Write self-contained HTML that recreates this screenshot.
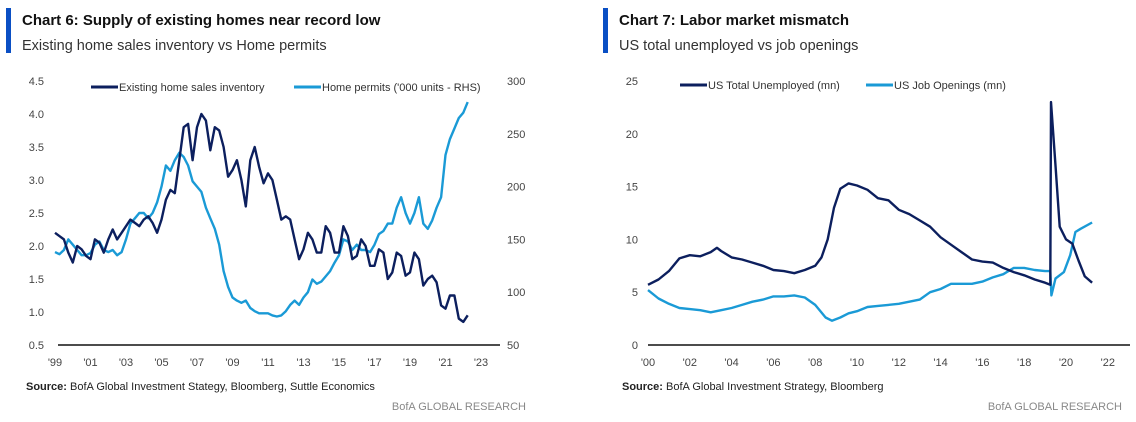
<!DOCTYPE html>
<html><head><meta charset="utf-8"><style>
body{margin:0;width:1136px;height:422px;background:#fff;font-family:"Liberation Sans",sans-serif;overflow:hidden}
svg{position:absolute;left:0;top:0}
</style></head><body>
<svg id="s" width="1136" height="422">
<rect x="6" y="8" width="5" height="45" fill="#0a4fc4"/>
<text x="22" y="25" font-size="15" font-weight="bold" fill="#111">Chart 6: Supply of existing homes near record low</text>
<text x="22" y="50" font-size="14.5" fill="#333">Existing home sales inventory vs Home permits</text>
<rect x="603" y="8" width="5" height="45" fill="#0a4fc4"/>
<text x="619" y="25" font-size="15" font-weight="bold" fill="#111">Chart 7: Labor market mismatch</text>
<text x="619" y="50" font-size="14.5" fill="#333">US total unemployed vs job openings</text>
<text x="26" y="390" font-size="11" fill="#222"><tspan font-weight="bold">Source:</tspan>  BofA Global Investment Stategy, Bloomberg, Suttle Economics</text>
<text x="526" y="410" font-size="11" fill="#888" text-anchor="end">BofA GLOBAL RESEARCH</text>
<text x="622" y="390" font-size="11" fill="#222"><tspan font-weight="bold">Source:</tspan>  BofA Global Investment Strategy, Bloomberg</text>
<text x="1122" y="410" font-size="11" fill="#888" text-anchor="end">BofA GLOBAL RESEARCH</text>
</svg>
<script>
const NAVY="#0c1f5e",CYAN="#1a9ad6";
// Chart 6 data (quarterly, 1999Q1 onwards)
const c6Start=1999;
const inventory=[2.2,2.15,2.1,1.9,1.75,2.0,1.95,1.85,1.8,2.1,2.05,1.9,2.1,2.25,2.1,2.2,2.3,2.4,2.35,2.3,2.4,2.45,2.35,2.2,2.4,2.7,2.85,2.8,3.3,3.8,3.85,3.3,3.8,4.0,3.9,3.45,3.8,3.75,3.5,3.05,3.15,3.3,3.0,2.6,3.3,3.5,3.2,2.95,3.1,3.0,2.7,2.4,2.45,2.4,2.1,1.8,1.95,2.2,2.1,1.9,1.9,2.3,2.2,1.9,1.9,2.3,2.15,1.8,1.85,2.1,2.0,1.7,1.7,1.95,1.9,1.5,1.6,1.9,1.85,1.55,1.6,1.9,1.8,1.4,1.5,1.55,1.45,1.1,1.05,1.25,1.25,0.9,0.85,0.95];
const permits=[138,136,140,150,145,140,135,135,137,145,148,140,138,140,135,138,150,165,170,175,175,170,175,185,200,220,215,225,232,228,220,205,200,195,180,170,160,145,120,105,95,92,90,92,85,82,80,80,80,78,77,78,82,88,92,88,95,100,112,108,110,115,120,128,135,150,148,140,145,140,140,138,145,155,158,165,165,180,190,175,165,175,190,165,160,168,180,190,230,245,255,265,270,280];
const c6Left=["0.5","1.0","1.5","2.0","2.5","3.0","3.5","4.0","4.5"];
const c6Right=["50","100","150","200","250","300"];
const c6X=["'99","'01","'03","'05","'07","'09","'11","'13","'15","'17","'19","'21","'23"];
// Chart 7 data
const unempYears=[2000,2000.5,2001,2001.5,2002,2002.5,2003,2003.3,2003.5,2004,2004.5,2005,2005.5,2006,2006.5,2007,2007.5,2008,2008.3,2008.6,2008.9,2009.2,2009.6,2010,2010.5,2011,2011.5,2012,2012.5,2013,2013.5,2014,2014.5,2015,2015.5,2016,2016.5,2017,2017.5,2018,2018.5,2019,2019.25,2019.28,2019.5,2019.7,2020.0,2020.3,2020.6,2020.9,2021.25];
const unemployed=[5.7,6.2,7.0,8.2,8.5,8.4,8.8,9.2,8.9,8.3,8.1,7.8,7.5,7.1,7.0,6.8,7.1,7.5,8.3,10,13,14.8,15.3,15.1,14.7,13.9,13.7,12.8,12.4,11.8,11.2,10.2,9.5,8.8,8.1,7.9,7.8,7.3,6.9,6.6,6.2,5.9,5.7,23.0,17,11.2,10.0,9.6,8.0,6.5,5.9];
const jobYears=[2000,2000.5,2001,2001.5,2002,2002.5,2003,2003.5,2004,2004.5,2005,2005.5,2006,2006.5,2007,2007.5,2008,2008.5,2008.8,2009.2,2009.6,2010,2010.5,2011,2011.5,2012,2012.5,2013,2013.5,2014,2014.5,2015,2015.5,2016,2016.5,2017,2017.5,2018,2018.5,2019,2019.25,2019.3,2019.5,2019.9,2020.2,2020.45,2020.7,2021.25];
const jobOpenings=[5.2,4.4,3.9,3.5,3.4,3.3,3.1,3.3,3.5,3.8,4.1,4.3,4.6,4.6,4.7,4.5,3.8,2.6,2.3,2.6,3.0,3.2,3.6,3.7,3.8,3.9,4.1,4.3,5.0,5.3,5.8,5.8,5.8,6.0,6.4,6.7,7.3,7.3,7.1,7.0,7.0,4.7,6.3,6.9,8.5,10.7,11.0,11.6];
const c7Y=["0","5","10","15","20","25"];
const c7X=["'00","'02","'04","'06","'08","'10","'12","'14","'16","'18","'20","'22"];

const svg=document.getElementById('s');const NS="http://www.w3.org/2000/svg";
function mk(t,a){const e=document.createElementNS(NS,t);for(const k in a)e.setAttribute(k,a[k]);svg.appendChild(e);return e;}
// scales
const x6=y=>55+(y-1999)*17.75;
const yL=v=>345-(v-0.5)*66;
const yR=v=>345-(v-50)*1.056;
const x7=y=>648+(y-2000)*20.9;
const y7=v=>345-v*10.56;

// chart 6 axes
let e=mk('line',{x1:58,x2:500,y1:345,y2:345,stroke:"#111","stroke-width":1.5});


c6Left.forEach(t=>{e=mk('text',{x:44,y:yL(+t)+4,"font-size":11,fill:"#444","text-anchor":"end"});e.textContent=t;

});
c6Right.forEach(t=>{e=mk('text',{x:507,y:yR(+t)+4,"font-size":11,fill:"#444"});e.textContent=t;

});
c6X.forEach((t,i)=>{e=mk('text',{x:x6(1999+2*i),y:366,"font-size":11,fill:"#444","text-anchor":"middle"});e.textContent=t;

});
function path(xs,ys,col,name){const d=xs.map((x,i)=>(i?'L':'M')+x.toFixed(1)+','+ys[i].toFixed(1)).join('');
const p=mk('path',{d:d,fill:"none",stroke:col,"stroke-width":2.4,"stroke-linejoin":"round"});

}
path(permits.map((v,i)=>x6(c6Start+i/4)),permits.map(yR),CYAN,'home-permits-line');
path(inventory.map((v,i)=>x6(c6Start+i/4)),inventory.map(yL),NAVY,'inventory-line');
function legend(x,y,col,label,name){const l=mk('line',{x1:x,x2:x+27,y1:y,y2:y,stroke:col,"stroke-width":3});


const t=mk('text',{x:x+28,y:y+4,"font-size":11,fill:"#333"});t.textContent=label;

}
legend(91,87,NAVY,"Existing home sales inventory","legend-inventory");
legend(294,87,CYAN,"Home permits ('000 units - RHS)","legend-permits");

// chart 7
e=mk('line',{x1:648,x2:1130,y1:345,y2:345,stroke:"#111","stroke-width":1.5});


c7Y.forEach(t=>{e=mk('text',{x:638,y:y7(+t)+4,"font-size":11,fill:"#444","text-anchor":"end"});e.textContent=t;

});
c7X.forEach((t,i)=>{e=mk('text',{x:x7(2000+2*i),y:366,"font-size":11,fill:"#444","text-anchor":"middle"});e.textContent=t;

});
path(jobYears.map(x7),jobOpenings.map(y7),CYAN,'job-openings-line');
path(unempYears.map(x7),unemployed.map(y7),NAVY,'unemployed-line');
legend(680,85,NAVY,"US Total Unemployed (mn)","legend-unemployed");
legend(866,85,CYAN,"US Job Openings (mn)","legend-job-openings");
</script>
</body></html>
